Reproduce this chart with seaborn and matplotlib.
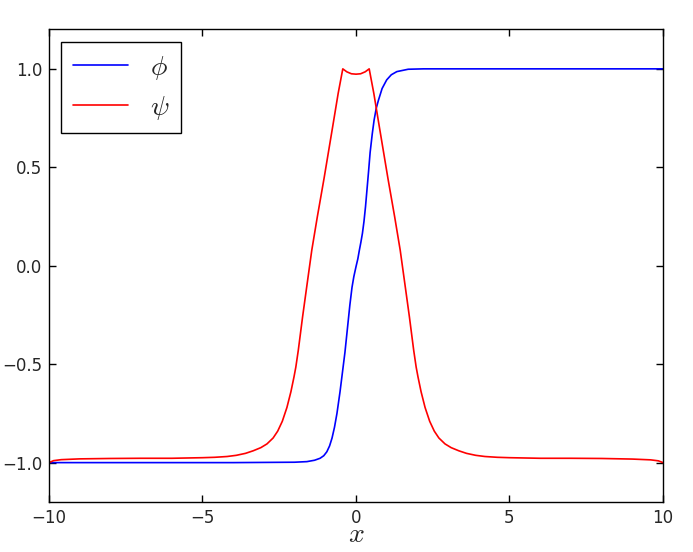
import numpy as np
import pandas as pd
import matplotlib
matplotlib.use("Agg")
import matplotlib.pyplot as plt
import seaborn as sns

# --- dados ---
x_phi = [-10.0, -4.0, -2.0, -1.6, -1.35, -1.17, -1.05, -0.95, -0.86, -0.78,
         -0.7, -0.62, -0.52, -0.44, -0.36, -0.28, -0.2, -0.13, -0.07, 0.0,
         0.06, 0.11, 0.16, 0.21, 0.26, 0.31, 0.36, 0.41, 0.46, 0.53,
         0.59, 0.66, 0.73, 0.85, 1.0, 1.15, 1.33, 1.7, 2.2, 10.0]
y_phi = [-1.0, -1.0, -0.998, -0.995, -0.988, -0.978, -0.965, -0.945, -0.915, -0.875,
         -0.82, -0.75, -0.64, -0.54, -0.44, -0.32, -0.2, -0.11, -0.055, -0.005,
         0.035, 0.079, 0.12, 0.165, 0.225, 0.30, 0.39, 0.48, 0.575, 0.67,
         0.74, 0.80, 0.84, 0.9, 0.944, 0.97, 0.986, 0.998, 1.0, 1.0]

x_psi = [-10.0, -9.85, -9.6, -9.0, -8.0, -7.0, -6.0, -5.0, -4.6, -4.2,
         -3.9, -3.6, -3.35, -3.1, -2.9, -2.7, -2.55, -2.4, -2.25, -2.12,
         -2.02, -1.96, -1.88, -1.74, -1.59, -1.44, -1.26, -1.04, -0.76, -0.58,
         -0.43, -0.3, -0.15, 0.0, 0.15, 0.3, 0.43, 0.58, 0.76, 1.04,
         1.26, 1.44, 1.59, 1.74, 1.88, 1.96, 2.02, 2.12, 2.25, 2.4,
         2.55, 2.7, 2.9, 3.1, 3.35, 3.6, 3.9, 4.2, 4.6, 5.0,
         6.0, 7.0, 8.0, 9.0, 9.6, 9.85, 10.0]
y_psi = [-1.0, -0.99, -0.985, -0.981, -0.979, -0.978, -0.978, -0.975, -0.973, -0.969,
         -0.963, -0.953, -0.94, -0.924, -0.905, -0.875, -0.84, -0.79, -0.72, -0.64,
         -0.565, -0.515, -0.43, -0.26, -0.09, 0.079, 0.248, 0.444, 0.706, 0.876,
         1.0, 0.985, 0.975, 0.973, 0.975, 0.985, 1.0, 0.876, 0.706, 0.444,
         0.248, 0.079, -0.09, -0.26, -0.43, -0.515, -0.565, -0.64, -0.72, -0.79,
         -0.84, -0.875, -0.905, -0.924, -0.94, -0.953, -0.963, -0.969, -0.973, -0.975,
         -0.978, -0.978, -0.979, -0.982, -0.986, -0.991, -1.0]

sns.set_style("ticks", {"xtick.direction": "in", "ytick.direction": "in",
                        "axes.edgecolor": "black"})
plt.rcParams["mathtext.fontset"] = "cm"
plt.rcParams["font.family"] = ["DejaVu Sans"]

fig = plt.figure(figsize=(6.93, 5.52), dpi=100)
ax = fig.add_axes([0.0707, 0.0906, 0.886, 0.856])

sns.lineplot(x=x_phi, y=y_phi, color="blue", lw=1.2, label=r"$\phi$", ax=ax, sort=False)
sns.lineplot(x=x_psi, y=y_psi, color="red", lw=1.2, label=r"$\psi$", ax=ax, sort=False)

ax.set_xlim(-10, 10)
ax.set_ylim(-1.2, 1.2)
ax.set_xticks([-10, -5, 0, 5, 10])
ax.set_yticks([-1.0, -0.5, 0.0, 0.5, 1.0])
ax.set_yticklabels(["\u22121.0", "\u22120.5", "0.0", "0.5", "1.0"])
ax.set_xticklabels(["\u221210", "\u22125", "0", "5", "10"])
ax.tick_params(top=True, right=True, labelsize=12, length=5, width=1, pad=5, color="black")
for s in ax.spines.values():
    s.set_linewidth(1.0)
    s.set_color("black")
ax.set_xlabel(r"$x$", fontsize=20, labelpad=-5)

leg = ax.legend(loc="upper left", fontsize=20, fancybox=False, framealpha=1,
                edgecolor="black", handlelength=2.0, handletextpad=0.8,
                borderaxespad=0.45, labelspacing=0.4, borderpad=0.4)
leg.get_frame().set_linewidth(1.0)

fig.savefig("out.png", dpi=100)
